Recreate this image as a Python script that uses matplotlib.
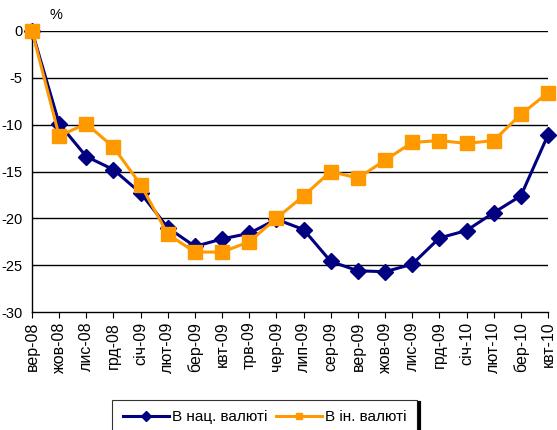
import matplotlib
matplotlib.use("Agg")
import matplotlib.pyplot as plt
from matplotlib.lines import Line2D

months = ["вер-08", "жов-08", "лис-08", "грд-08", "січ-09", "лют-09", "бер-09", "квт-09",
          "трв-09", "чер-09", "лип-09", "сер-09", "вер-09", "жов-09", "лис-09", "грд-09",
          "січ-10", "лют-10", "бер-10", "квт-10"]
national = [0, -9.9, -13.4, -14.8, -17.3, -21.0, -23.0, -22.2, -21.6, -20.1, -21.2, -24.6,
            -25.6, -25.7, -24.9, -22.1, -21.3, -19.4, -17.6, -11.1]
foreign = [0, -11.2, -9.9, -12.4, -16.4, -21.7, -23.6, -23.6, -22.5, -20.0, -17.6, -15.0,
           -15.7, -13.8, -11.9, -11.7, -12.0, -11.7, -8.9, -6.6]
yticks = [0, -5, -10, -15, -20, -25, -30]

plt.rcParams['font.family'] = ['Liberation Sans', 'DejaVu Sans']

fig = plt.figure(figsize=(5.57, 4.3), dpi=100)
ax = fig.add_axes([32/557, 1-312/430, (548-32)/557, (312-31)/430])

x = list(range(len(months)))
for yv in yticks[:-1]:
    ax.axhline(yv, color='black', lw=1.0, zorder=1)

ax.plot(x, national, color='#000080', lw=2.2, marker='D', markersize=8.5,
        label='В нац. валюті', zorder=3, clip_on=False)
ax.plot(x, foreign, color='#FF9900', lw=2.2, marker='s', markersize=10,
        label='В ін. валюті', zorder=4, clip_on=False)

ax.set_xlim(0, len(months)-1)
ax.set_ylim(-30, 0)
ax.set_yticks(yticks)
ax.set_yticklabels([str(v) for v in yticks], fontsize=10.5)
ax.set_xticks(x)
ax.set_xticklabels(months, rotation=90, fontsize=11.5)
ax.tick_params(axis='x', length=4, direction='out', color='black', pad=3)
ax.tick_params(axis='y', length=0, pad=7)
for s in ['top', 'right']:
    ax.spines[s].set_visible(False)
for s in ['left', 'bottom']:
    ax.spines[s].set_color('black')
    ax.spines[s].set_linewidth(1.0)

fig.text(50/557, 1-15/430, '%', fontsize=10.5, ha='left', va='center')

handles = [Line2D([], [], color='#000080', lw=2.2, marker='D', markersize=5),
           Line2D([], [], color='#FF9900', lw=2.2, marker='s', markersize=5)]
leg = fig.legend(handles, ['В нац. валюті', 'В ін. валюті'], loc='upper left',
                 bbox_to_anchor=(112/557, 1-400/430, (417-112)/557, 0.001), mode='expand',
                 ncol=2, frameon=True, fancybox=False, edgecolor='black', fontsize=11,
                 handlelength=3.0, handletextpad=0.2, borderaxespad=0, columnspacing=2.5,
                 borderpad=0.7)
leg.get_frame().set_linewidth(0.8)
fig.add_artist(Line2D([419/557, 419/557], [0, 1-403/430], color='black', lw=3,
                      transform=fig.transFigure))

fig.savefig('out.png', dpi=100)
